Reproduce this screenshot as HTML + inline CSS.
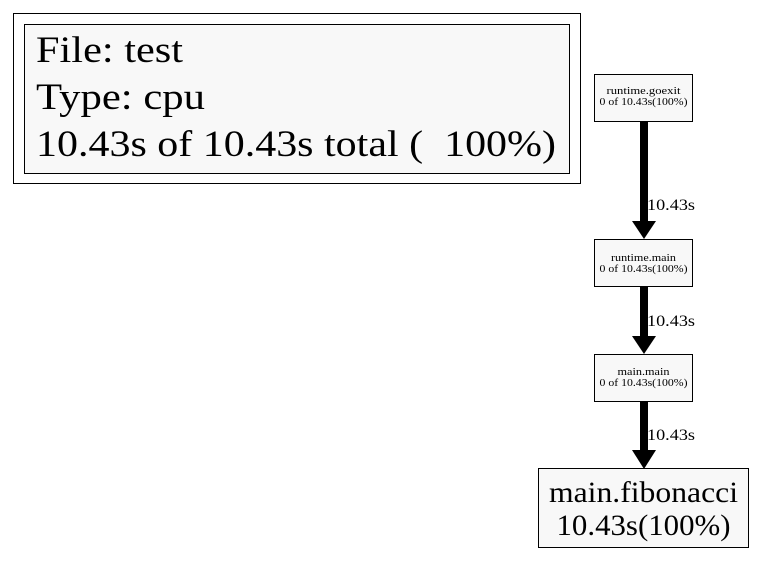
<!DOCTYPE html>
<html><head><meta charset="utf-8"><style>
html,body{margin:0;padding:0;background:#fff;}
svg{display:block;font-family:"Liberation Serif",serif;}
</style></head><body>
<svg width="765" height="572" viewBox="0 0 765 572">
<g>
<rect x="13.5" y="13.5" width="567" height="170" fill="#fff" stroke="#000"/>
<rect x="24.5" y="24.5" width="545" height="149" fill="#f8f8f8" stroke="#000"/>
<text x="36" y="62" font-size="37" textLength="147" lengthAdjust="spacingAndGlyphs">File: test</text>
<text x="36" y="109" font-size="37" textLength="169" lengthAdjust="spacingAndGlyphs">Type: cpu</text>
<text x="36" y="156" font-size="37" xml:space="preserve" textLength="520" lengthAdjust="spacingAndGlyphs">10.43s of 10.43s total (  100%)</text>
</g>
<g>
<rect x="640" y="121" width="8" height="102" fill="#000"/>
<polygon points="632,221 656,221 644,239" fill="#000"/>
<text x="647" y="210" font-size="16" textLength="48" lengthAdjust="spacingAndGlyphs">10.43s</text>
</g>
<g>
<rect x="640" y="286" width="8" height="52" fill="#000"/>
<polygon points="632,336 656,336 644,354" fill="#000"/>
<text x="647" y="326" font-size="16" textLength="48" lengthAdjust="spacingAndGlyphs">10.43s</text>
</g>
<g>
<rect x="640" y="401" width="8" height="52" fill="#000"/>
<polygon points="632,450 656,450 644,469" fill="#000"/>
<text x="647" y="440" font-size="16" textLength="48" lengthAdjust="spacingAndGlyphs">10.43s</text>
</g>
<g>
<rect x="594.5" y="74.5" width="98" height="47" fill="#f8f8f8" stroke="#000"/>
<text x="643.5" y="94" font-size="11" text-anchor="middle" textLength="74" lengthAdjust="spacingAndGlyphs">runtime.goexit</text>
<text x="643.5" y="105" font-size="11" text-anchor="middle" textLength="88" lengthAdjust="spacingAndGlyphs">0 of 10.43s(100%)</text>
</g>
<g>
<rect x="594.5" y="239.5" width="98" height="47" fill="#f8f8f8" stroke="#000"/>
<text x="643.5" y="261" font-size="11" text-anchor="middle" textLength="65" lengthAdjust="spacingAndGlyphs">runtime.main</text>
<text x="643.5" y="272" font-size="11" text-anchor="middle" textLength="88" lengthAdjust="spacingAndGlyphs">0 of 10.43s(100%)</text>
</g>
<g>
<rect x="594.5" y="354.5" width="98" height="47" fill="#f8f8f8" stroke="#000"/>
<text x="643.5" y="375" font-size="11" text-anchor="middle" textLength="52" lengthAdjust="spacingAndGlyphs">main.main</text>
<text x="643.5" y="386" font-size="11" text-anchor="middle" textLength="88" lengthAdjust="spacingAndGlyphs">0 of 10.43s(100%)</text>
</g>
<g>
<rect x="538.5" y="468.5" width="210" height="79" fill="#f8f8f8" stroke="#000"/>
<text x="643.5" y="502" font-size="30" text-anchor="middle" textLength="189" lengthAdjust="spacingAndGlyphs">main.fibonacci</text>
<text x="643.5" y="535" font-size="30" text-anchor="middle" textLength="174" lengthAdjust="spacingAndGlyphs">10.43s(100%)</text>
</g>
</svg>
</body></html>
